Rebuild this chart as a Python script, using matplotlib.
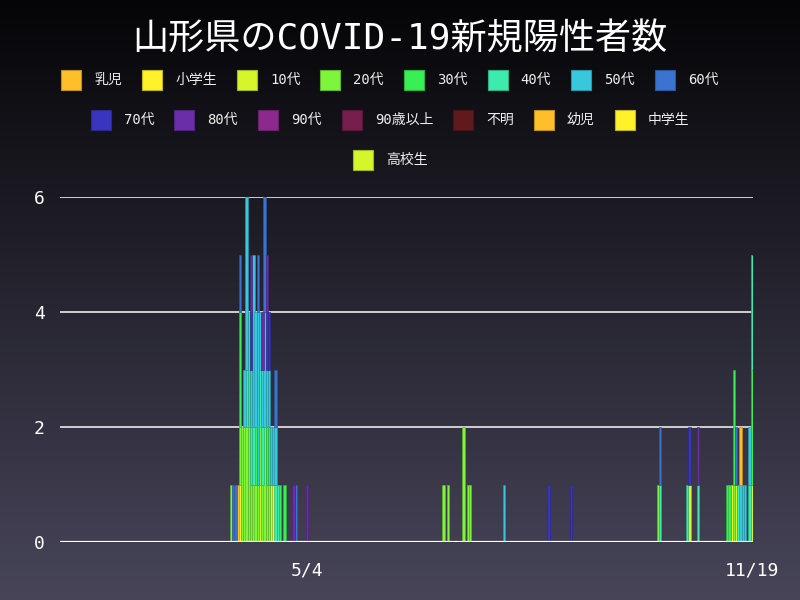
import numpy as np
import pandas as pd
import matplotlib
matplotlib.use("Agg")
import matplotlib.pyplot as plt
from matplotlib.patches import Rectangle
from matplotlib.colors import to_rgb

FONT = ['DejaVu Sans Mono', 'Noto Sans CJK JP']
plt.rcParams['font.family'] = FONT

# day range of the chart and the two labelled ticks
start_date, end_date = "2020-01-15", "2020-11-19"
tick_dates = ["2020-05-04", "2020-11-19"]
tick_labels = ["5/4", "11/19"]

groups = ["乳児", "小学生", "10代", "20代", "30代", "40代", "50代", "60代",
          "70代", "80代", "90代", "90歳以上", "不明", "幼児", "中学生", "高校生"]
colors = ["#ffbf2a", "#fff22a", "#d6f52a", "#7ef53a", "#38f055", "#3cecae",
          "#38c8de", "#3a74d0", "#3a35c0", "#6a2fa8", "#8b2a8c", "#761e4e",
          "#601a1e", "#ffbf2a", "#fff22a", "#d6f52a"]

# one entry per positive case (month/day, 2020)
infant = ["4/3"]
elementary = ["4/4", "4/19", "11/10"]
teens = ["4/13", "4/18", "10/22", "11/12", "11/19"]
twenties = ["3/31", "4/4", "4/5", "4/5", "4/6", "4/6", "4/7", "4/7", "4/8", "4/8",
            "4/9", "4/10", "4/11", "4/12", "4/13", "4/14", "4/15", "4/15", "4/16",
            "4/17", "7/4", "7/6", "7/13", "7/13", "7/15", "7/16", "10/8", "11/11"]
thirties = ["4/4", "4/4", "4/8", "4/8", "4/11", "4/16", "4/17", "4/22", "4/24",
            "11/8", "11/9", "11/11", "11/11", "11/19", "11/19"]
forties = ["4/7", "4/9", "4/10", "4/13", "4/14", "4/20", "4/21", "10/9", "10/21",
           "10/26", "11/13", "11/18", "11/19", "11/19"]
fifties = ["4/6", "4/7", "4/7", "4/7", "4/9", "4/10", "4/10", "4/10", "4/11", "4/11",
           "4/12", "4/12", "4/12", "4/13", "4/14", "4/15", "4/15", "4/16", "4/17",
           "4/18", "4/19", "4/20", "7/31", "11/14", "11/15", "11/16", "11/18"]
sixties = ["4/1", "4/2", "4/4", "4/12", "4/15", "4/15", "4/20", "4/29", "10/9", "11/12"]
seventies = ["4/9", "4/16", "4/17", "8/20", "8/30", "10/22"]
eighties = ["4/9", "4/14", "4/16", "4/28", "5/4", "10/26"]
nineties = []
over_ninety = []
unknown = []
preschool = ["11/14"]
junior_high = []
high_school = []

case_lists = [infant, elementary, teens, twenties, thirties, forties, fifties,
              sixties, seventies, eighties, nineties, over_ninety, unknown,
              preschool, junior_high, high_school]


def darker(color, k=0.75):
    return tuple(c * k for c in to_rgb(color))


dates = pd.date_range(start_date, end_date, freq="D")
x = np.arange(len(dates))

fig = plt.figure(figsize=(8, 6), dpi=100)

# background gradient
bg = fig.add_axes([0, 0, 1, 1], zorder=-10)
top_rgb = np.array([0.02, 0.02, 0.03])
bot_rgb = np.array([0.28, 0.27, 0.35])
t = np.linspace(0, 1, 256)[:, None]
grad = (top_rgb * (1 - t) + bot_rgb * t)[:, None, :]
bg.imshow(grad, aspect="auto", extent=[0, 1, 0, 1])
bg.axis("off")

ax = fig.add_axes([60 / 800, 58 / 600, 693 / 800, 345 / 600])
ax.set_facecolor("none")

bottom = np.zeros(len(dates))
for name, color, cases in zip(groups, colors, case_lists):
    if cases:
        days = pd.to_datetime(["2020/" + d for d in cases], format="%Y/%m/%d")
        counts = pd.Series(days).value_counts().reindex(dates, fill_value=0).to_numpy()
    else:
        counts = np.zeros(len(dates))
    mask = counts > 0
    if mask.any():
        ax.bar(x[mask], counts[mask], bottom=bottom[mask], width=1.1,
               color=color, edgecolor=darker(color), linewidth=0.45, zorder=3)
    bottom += counts

ax.set_xlim(-0.5, len(dates) - 0.5)
ax.set_ylim(0, 6)
ax.set_yticks([0, 2, 4, 6])
ax.yaxis.grid(True, color="#d0d0d0", linewidth=1.4, zorder=1)
ax.axhline(0, color="white", linewidth=1.6, zorder=4)
ax.set_xticks([dates.get_loc(pd.Timestamp(d)) for d in tick_dates])
ax.set_xticklabels(tick_labels)
for s in ax.spines.values():
    s.set_visible(False)
ax.tick_params(axis="both", length=0, colors="white", labelsize=13)
ax.tick_params(axis="y", pad=11)
ax.tick_params(axis="x", pad=14)

fig.text(0.5, 1 - 39 / 600, "山形県のCOVID-19新規陽性者数", ha="center", va="center",
         color="white", fontsize=26)

# legend rows, centered like the original
rows = [list(range(0, 8)), list(range(8, 15)), list(range(15, 16))]
row_y = [80, 120, 160]
box, gap, pad = 20, 13, 20
renderer = fig.canvas.get_renderer()
for idx_row, y in zip(rows, row_y):
    items = []
    for i in idx_row:
        txt = fig.text(0, 0, groups[i], fontsize=10, color="#eeeeee", va="center")
        w = txt.get_window_extent(renderer).width
        items.append((i, txt, w))
    total = sum(box + gap + w + pad for _, _, w in items)
    cur = 400 - total / 2
    for i, txt, w in items:
        fig.patches.append(Rectangle((cur / 800, 1 - (y + 10) / 600), box / 800, 20 / 600,
                                     transform=fig.transFigure, facecolor=colors[i],
                                     edgecolor=darker(colors[i]), linewidth=0.8))
        txt.set_position(((cur + box + gap) / 800, 1 - y / 600))
        cur += box + gap + w + pad

fig.savefig("out.png", dpi=100)
